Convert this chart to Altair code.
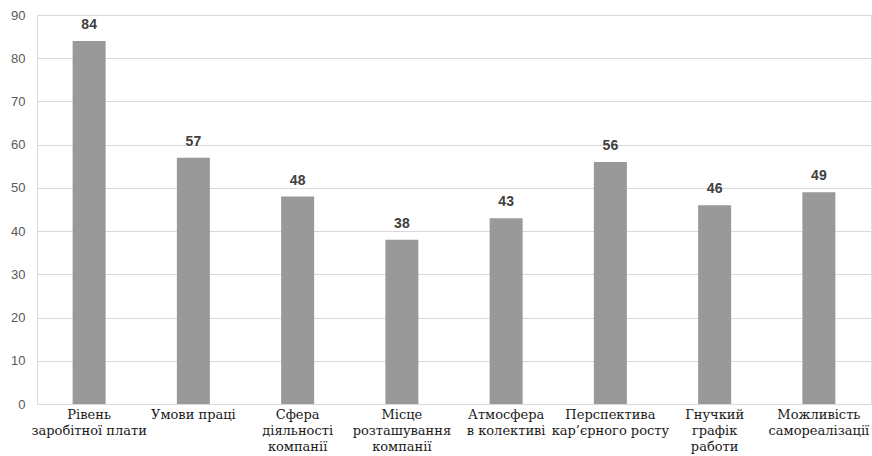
import altair as alt
import pandas as pd

# Job-choice factors (label lines separated by "|") and their scores
categories = [
    "Рівень|заробітної плати",
    "Умови праці",
    "Сфера|діяльності|компанії",
    "Місце|розташування|компанії",
    "Атмосфера|в колективі",
    "Перспектива|кар’єрного росту",
    "Гнучкий|графік|работи",
    "Можливість|самореалізації",
]
values = [84, 57, 48, 38, 43, 56, 46, 49]
y_ticks = [0, 10, 20, 30, 40, 50, 60, 70, 80, 90]

df = pd.DataFrame({"factor": categories, "score": values})

x = alt.X(
    "factor:N",
    sort=categories,
    title=None,
    axis=alt.Axis(
        labelExpr="split(datum.label, '|')",
        domain=False,
        grid=False,
        ticks=False,
    ),
)
y = alt.Y(
    "score:Q",
    title=None,
    scale=alt.Scale(domain=[0, 90], nice=False),
    axis=alt.Axis(values=y_ticks, domain=False, ticks=False),
)

bars = alt.Chart(df).mark_bar(size=33, color="#999999").encode(x=x, y=y)

labels = alt.Chart(df).mark_text(
    baseline="bottom",
    dy=-9,
    font="Liberation Sans",
    fontSize=14,
    fontWeight="bold",
    color="#404040",
).encode(x=x, y=y, text="score:Q")

chart = (
    alt.layer(bars, labels)
    .properties(
        width=834,
        height=389,
        autosize=alt.AutoSizeParams(type="none"),
        padding={"left": 37, "top": 15, "right": 1, "bottom": 52},
    )
    .configure_view(strokeWidth=0, stroke="transparent")
    .configure(background="white")
    .configure_axisX(
        labelAngle=0,
        labelFont="DejaVu Serif",
        labelFontSize=13,
        labelFontWeight="normal",
        labelColor="#1a1a1a",
        labelLineHeight=16,
        labelPadding=4,
        labelLimit=200,
    )
    .configure_axisY(
        labelFont="Liberation Sans",
        labelFontSize=13,
        labelColor="#595959",
        labelPadding=12,
        gridColor="#d9d9d9",
        gridWidth=1,
    )
)

chart.save("out.html", embed_options={"renderer": "svg", "actions": False})
